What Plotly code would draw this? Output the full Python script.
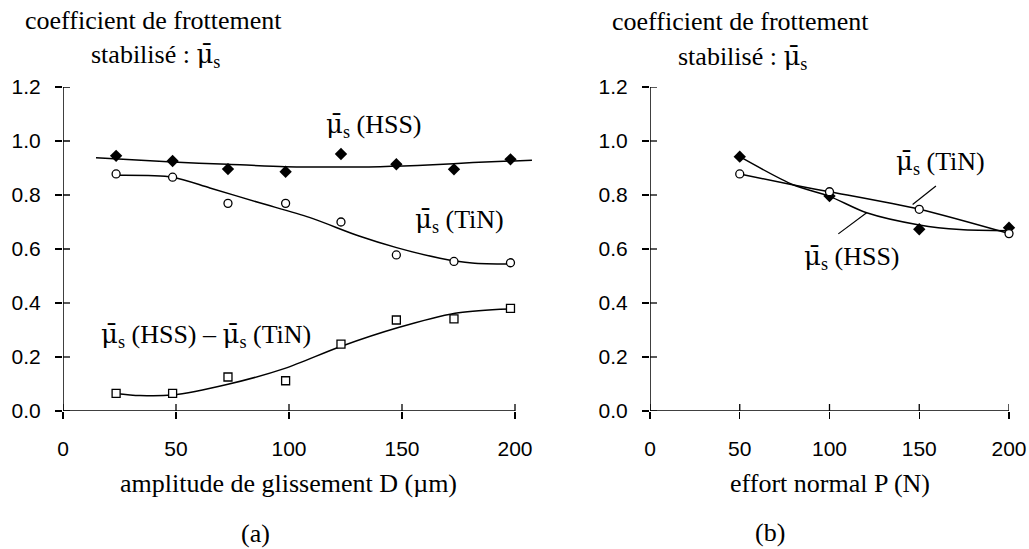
import plotly.graph_objects as go

# ---------------- data: chart (a) ----------------
a_x = [23.5, 48.5, 73, 98.5, 123, 147.5, 173, 198]
a_hss = [0.945, 0.926, 0.896, 0.886, 0.952, 0.914, 0.895, 0.932]
a_tin = [0.878, 0.866, 0.769, 0.769, 0.700, 0.578, 0.554, 0.549]
a_diff = [0.065, 0.065, 0.126, 0.112, 0.248, 0.337, 0.341, 0.380]

a_hss_fit_x = [14.6, 48.5, 73, 98.2, 122.6, 140.3, 163.7, 181.4, 207.5]
a_hss_fit_y = [0.938, 0.922, 0.914, 0.905, 0.904, 0.905, 0.912, 0.920, 0.929]
a_tin_fit_x = [23.3, 48.5, 65, 87, 109, 131, 147.6, 166.8, 181, 199]
a_tin_fit_y = [0.873, 0.866, 0.826, 0.771, 0.717, 0.648, 0.605, 0.566, 0.548, 0.544]
a_diff_fit_x = [23, 34, 48.2, 73, 98.2, 122.6, 148, 173.5, 193.4, 198]
a_diff_fit_y = [0.065, 0.057, 0.059, 0.099, 0.158, 0.238, 0.308, 0.362, 0.377, 0.378]

# ---------------- data: chart (b) ----------------
b_x = [50, 100, 150, 200]
b_hss = [0.942, 0.796, 0.673, 0.679]
b_tin = [0.878, 0.812, 0.747, 0.657]

b_hss_fit_x = [50, 80, 100, 120.7, 150, 172.7, 200]
b_hss_fit_y = [0.942, 0.837, 0.795, 0.734, 0.689, 0.672, 0.668]
b_tin_fit_x = [50, 80, 100, 150, 200]
b_tin_fit_y = [0.878, 0.837, 0.812, 0.747, 0.657]

x_ticks = [0, 50, 100, 150, 200]
y_ticks = [0.0, 0.2, 0.4, 0.6, 0.8, 1.0, 1.2]
y_ticklabels = ["0.0", "0.2", "0.4", "0.6", "0.8", "1.0", "1.2"]

MU = "<span style='font-family:DejaVu Serif'>μ\u0304</span><sub>s</sub>"
SERIF = "Liberation Serif"
SANS = "Liberation Sans"
W, H = 1029, 549

fig = go.Figure()

line_style = dict(color="black", width=1.5, shape="spline", smoothing=0.8)
open_marker = dict(color="white", line=dict(color="black", width=1.3))
# chart (a)
fig.add_trace(go.Scatter(x=a_hss_fit_x, y=a_hss_fit_y, mode="lines", line=line_style, xaxis="x", yaxis="y"))
fig.add_trace(go.Scatter(x=a_tin_fit_x, y=a_tin_fit_y, mode="lines", line=line_style, xaxis="x", yaxis="y"))
fig.add_trace(go.Scatter(x=a_diff_fit_x, y=a_diff_fit_y, mode="lines", line=line_style, xaxis="x", yaxis="y"))
fig.add_trace(go.Scatter(x=a_x, y=a_hss, mode="markers", cliponaxis=False,
                         marker=dict(symbol="diamond", size=9.5, color="black"), xaxis="x", yaxis="y"))
fig.add_trace(go.Scatter(x=a_x, y=a_tin, mode="markers", cliponaxis=False,
                         marker=dict(symbol="circle", size=8, **open_marker), xaxis="x", yaxis="y"))
fig.add_trace(go.Scatter(x=a_x, y=a_diff, mode="markers", cliponaxis=False,
                         marker=dict(symbol="square", size=8, **open_marker), xaxis="x", yaxis="y"))
# chart (b)
fig.add_trace(go.Scatter(x=b_hss_fit_x, y=b_hss_fit_y, mode="lines", line=line_style, xaxis="x2", yaxis="y2"))
fig.add_trace(go.Scatter(x=b_tin_fit_x, y=b_tin_fit_y, mode="lines", line=line_style, xaxis="x2", yaxis="y2"))
fig.add_trace(go.Scatter(x=b_x, y=b_hss, mode="markers", cliponaxis=False,
                         marker=dict(symbol="diamond", size=9.5, color="black"), xaxis="x2", yaxis="y2"))
fig.add_trace(go.Scatter(x=b_x, y=b_tin, mode="markers", cliponaxis=False,
                         marker=dict(symbol="circle", size=8, **open_marker), xaxis="x2", yaxis="y2"))

# plot area geometry (pixels)
y_dom = [(H - 411) / H, (H - 87) / H]
ax_common = dict(showgrid=False, zeroline=False, showline=False, ticks="outside", ticklen=7,
                 tickwidth=1.3, tickcolor="black", automargin=False,
                 tickfont=dict(family=SANS, size=21, color="black"))

fig.update_layout(
    width=W, height=H, margin=dict(l=0, r=0, t=0, b=0, pad=0, autoexpand=False),
    paper_bgcolor="white", plot_bgcolor="white", showlegend=False, hovermode=False,
    xaxis=dict(domain=[63 / W, (63 + 210 * 2.26) / W], range=[0, 210], tickvals=x_ticks,
               ticklabelstandoff=12, **ax_common),
    yaxis=dict(domain=y_dom, range=[0, 1.2], tickvals=y_ticks, ticktext=y_ticklabels,
               ticklabelstandoff=10, **ax_common),
    xaxis2=dict(domain=[650 / W, 1009 / W], range=[0, 200], tickvals=x_ticks, anchor="y2",
                ticklabelstandoff=12, **ax_common),
    yaxis2=dict(domain=y_dom, range=[0, 1.2], tickvals=y_ticks, ticktext=y_ticklabels, anchor="x2",
                ticklabelstandoff=10, **ax_common),
)

shapes = []
for xr, yr in (("x", "y"), ("x2", "y2")):
    # axis lines
    shapes.append(dict(type="line", xref=xr, yref=yr, x0=0, x1=200, y0=0, y1=0,
                       line=dict(color="black", width=1.5)))
    shapes.append(dict(type="line", xref=xr, yref=yr, x0=0, x1=0, y0=0, y1=1.2,
                       line=dict(color="black", width=1.5)))
    # inside halves of the crossing ticks
    for t in x_ticks:
        shapes.append(dict(type="line", xref=xr, yref=yr, x0=t, x1=t, ysizemode="pixel", yanchor=0,
                           y0=0, y1=7, line=dict(color="black", width=1.3)))
    for t in y_ticks:
        shapes.append(dict(type="line", xref=xr, yref=yr, y0=t, y1=t, xsizemode="pixel", xanchor=0,
                           x0=0, x1=7, line=dict(color="black", width=1.3)))
# pointer lines in chart (b)
shapes.append(dict(type="line", xref="x2", yref="y2", x0=159.3, y0=0.833, x1=146.3, y1=0.765,
                   line=dict(color="black", width=1.2)))
shapes.append(dict(type="line", xref="x2", yref="y2", x0=104.9, y0=0.656, x1=120.7, y1=0.734,
                   line=dict(color="black", width=1.2)))
fig.update_layout(shapes=shapes)

ser = dict(family=SERIF, size=26, color="black")
def pann(text, px, py):
    return dict(text=text, xref="paper", yref="paper", x=px / W, y=1 - py / H,
                xanchor="center", yanchor="middle", showarrow=False, font=ser)

def dann(text, xr, yr, x, y):
    return dict(text=text, xref=xr, yref=yr, x=x, y=y, xanchor="center", yanchor="middle",
                showarrow=False, font=ser)

annotations = [
    pann("coefficient de frottement", 153, 20),
    pann("stabilisé : " + MU, 155, 56),
    pann("coefficient de frottement", 740, 22),
    pann("stabilisé : " + MU, 742, 57),
    pann("amplitude de glissement D (µm)", 288, 483),
    pann("(a)", 255, 533),
    pann("effort normal P (N)", 830, 483),
    pann("(b)", 770, 532),
    dann(MU + " (HSS)", "x", "y", 137.4, 1.056),
    dann(MU + " (TiN)", "x", "y", 175.4, 0.707),
    dann(MU + " (HSS) – " + MU + " (TiN)", "x", "y", 63.3, 0.281),
    dann(MU + " (TiN)", "x2", "y2", 161.6, 0.919),
    dann(MU + " (HSS)", "x2", "y2", 112.5, 0.570),
]
fig.update_layout(annotations=annotations)

fig.write_html("out.html", config={"displayModeBar": False, "staticPlot": True},
               post_script="document.body.style.margin='0';document.body.style.overflow='hidden';")
